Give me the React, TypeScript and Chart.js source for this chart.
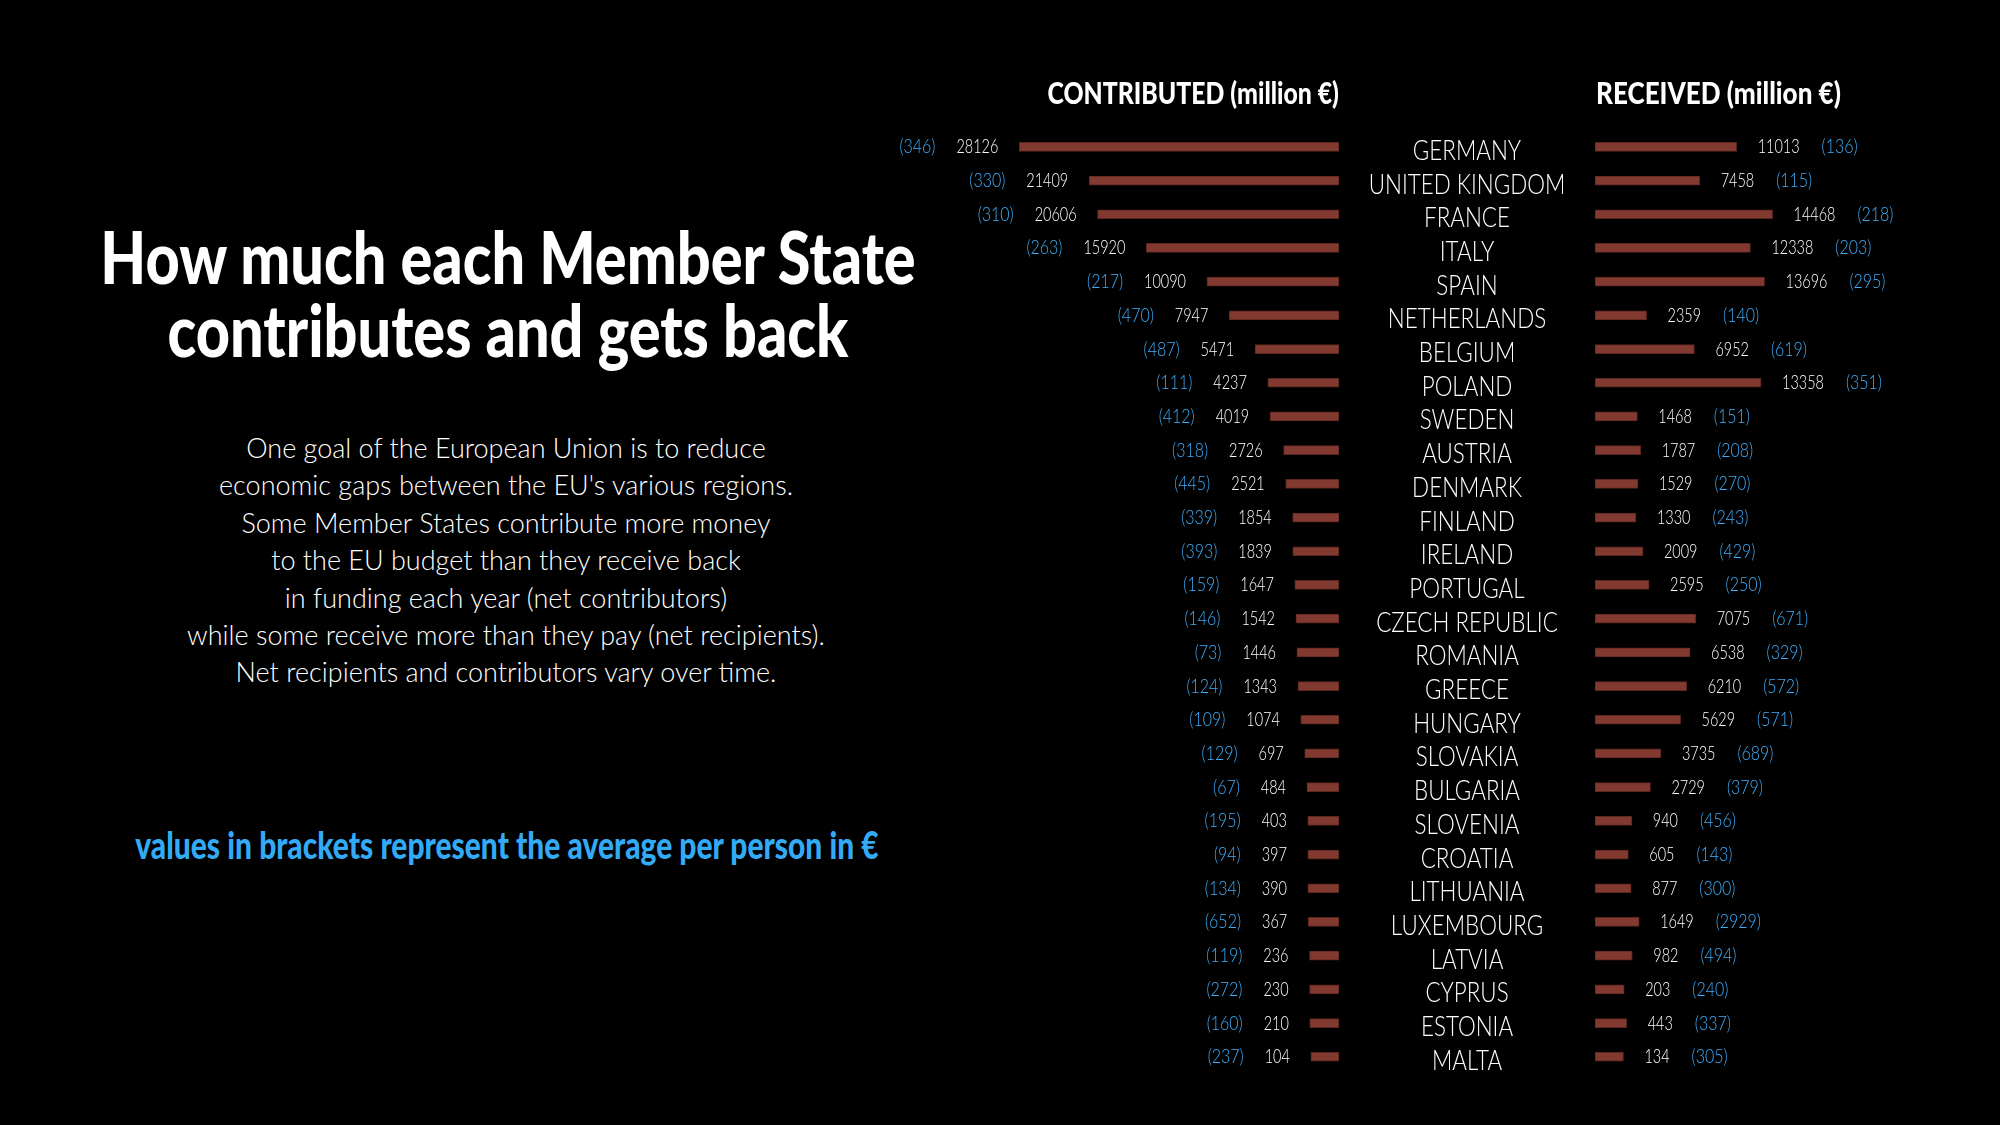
import React, { useEffect, useRef } from "react";
import { Chart, registerables } from "chart.js";

Chart.register(...registerables);

const countries = [
  "GERMANY", "UNITED KINGDOM", "FRANCE", "ITALY", "SPAIN", "NETHERLANDS", "BELGIUM",
  "POLAND", "SWEDEN", "AUSTRIA", "DENMARK", "FINLAND", "IRELAND", "PORTUGAL",
  "CZECH REPUBLIC", "ROMANIA", "GREECE", "HUNGARY", "SLOVAKIA", "BULGARIA",
  "SLOVENIA", "CROATIA", "LITHUANIA", "LUXEMBOURG", "LATVIA", "CYPRUS", "ESTONIA", "MALTA",
];

const contributed = [
  28126, 21409, 20606, 15920, 10090, 7947, 5471, 4237, 4019, 2726, 2521, 1854, 1839, 1647,
  1542, 1446, 1343, 1074, 697, 484, 403, 397, 390, 367, 236, 230, 210, 104,
];

const contributedPerPerson = [
  346, 330, 310, 263, 217, 470, 487, 111, 412, 318, 445, 339, 393, 159,
  146, 73, 124, 109, 129, 67, 195, 94, 134, 652, 119, 272, 160, 237,
];

const received = [
  11013, 7458, 14468, 12338, 13696, 2359, 6952, 13358, 1468, 1787, 1529, 1330, 2009, 2595,
  7075, 6538, 6210, 5629, 3735, 2729, 940, 605, 877, 1649, 982, 203, 443, 134,
];

const receivedPerPerson = [
  136, 115, 218, 203, 295, 140, 619, 351, 151, 208, 270, 243, 429, 250,
  671, 329, 572, 571, 689, 379, 456, 143, 300, 2929, 494, 240, 337, 305,
];

const contributedTitle = "CONTRIBUTED (million €)";
const receivedTitle = "RECEIVED (million €)";

const BAR_COLOR = "#82392f";
const BAR_BORDER = "#5c271f";
const BLUE = "#3eaefc";
const NOTE_BLUE = "#33aaf5";

const BAR_BASE = -2600;
const AXIS_MAX = 32000;

const NUM_FONT = "300 19px Lato";
const NUM_SX = 0.76;
const BR_FONT = "300 19px Lato";
const BR_SX = 0.84;
const LABEL_FONT = "300 28px Lato";
const LABEL_SX = 0.8;
const HEAD_FONT = "900 31px Lato";
const HEAD_SX = 0.8;

function drawScaled(ctx: CanvasRenderingContext2D, text: string, x: number, y: number, sx: number, align: CanvasTextAlign) {
  ctx.save();
  ctx.translate(x, y);
  ctx.scale(sx, 1);
  ctx.textAlign = align;
  ctx.textBaseline = "alphabetic";
  ctx.fillText(text, 0, 0);
  ctx.restore();
}

function widthOf(ctx: CanvasRenderingContext2D, text: string, sx: number) {
  return ctx.measureText(text).width * sx;
}

const leftLabels = {
  id: "leftLabels",
  afterDatasetsDraw(chart: any) {
    const ctx: CanvasRenderingContext2D = chart.ctx;
    const meta = chart.getDatasetMeta(0);
    ctx.save();
    meta.data.forEach((bar: any, i: number) => {
      const { x, y } = bar.getProps(["x", "y"], true);
      ctx.font = NUM_FONT;
      ctx.fillStyle = "#ffffff";
      const v = String(contributed[i]);
      const xv = x - 21;
      drawScaled(ctx, v, xv, y + 6.5, NUM_SX, "right");
      const w = widthOf(ctx, v, NUM_SX);
      ctx.font = BR_FONT;
      ctx.fillStyle = BLUE;
      drawScaled(ctx, `(${contributedPerPerson[i]})`, xv - w - 21, y + 6.5, BR_SX, "right");
    });
    ctx.fillStyle = "#ffffff";
    ctx.font = HEAD_FONT;
    drawScaled(ctx, contributedTitle, chart.chartArea.right, 104, HEAD_SX, "right");
    ctx.restore();
  },
};

const rightLabels = {
  id: "rightLabels",
  afterDatasetsDraw(chart: any) {
    const ctx: CanvasRenderingContext2D = chart.ctx;
    const meta = chart.getDatasetMeta(0);
    const labelX = chart.chartArea.left - 128;
    ctx.save();
    meta.data.forEach((bar: any, i: number) => {
      const { x, y } = bar.getProps(["x", "y"], true);
      ctx.font = NUM_FONT;
      ctx.fillStyle = "#ffffff";
      const v = String(received[i]);
      const xv = x + 21;
      drawScaled(ctx, v, xv, y + 6.5, NUM_SX, "left");
      const w = widthOf(ctx, v, NUM_SX);
      ctx.font = BR_FONT;
      ctx.fillStyle = BLUE;
      drawScaled(ctx, `(${receivedPerPerson[i]})`, xv + w + 22, y + 6.5, BR_SX, "left");
      ctx.font = LABEL_FONT;
      ctx.fillStyle = "#ffffff";
      drawScaled(ctx, countries[i], labelX, y + 13, LABEL_SX, "center");
    });
    ctx.fillStyle = "#ffffff";
    ctx.font = HEAD_FONT;
    drawScaled(ctx, receivedTitle, chart.chartArea.left + 1, 104, HEAD_SX + 0.04, "left");
    ctx.restore();
  },
};

function makeChart(canvas: HTMLCanvasElement, values: number[], reverse: boolean, padding: any, plugin: any) {
  return new Chart(canvas, {
    type: "bar",
    data: {
      labels: countries,
      datasets: [
        {
          data: values,
          base: BAR_BASE,
          backgroundColor: BAR_COLOR,
          borderColor: BAR_BORDER,
          borderWidth: 1,
          borderSkipped: false,
          barThickness: 9,
        } as any,
      ],
    },
    options: {
      indexAxis: "y",
      responsive: false,
      animation: false,
      events: [],
      layout: { padding },
      plugins: { legend: { display: false }, tooltip: { enabled: false }, title: { display: false } },
      scales: {
        x: { type: "linear", min: BAR_BASE, max: AXIS_MAX, reverse, display: false },
        y: { type: "category", display: false, offset: true },
      },
    },
    plugins: [plugin],
  });
}

export default function App() {
  const leftRef = useRef<HTMLCanvasElement | null>(null);
  const rightRef = useRef<HTMLCanvasElement | null>(null);

  useEffect(() => {
    const top = 130;
    const areaH = 28 * 33.7;
    const bottom = 1125 - top - areaH;
    const c1 = makeChart(leftRef.current!, contributed, true, { left: 129, right: 1, top, bottom }, leftLabels);
    const c2 = makeChart(rightRef.current!, received, false, { left: 250, right: 45, top, bottom }, rightLabels);
    return () => {
      c1.destroy();
      c2.destroy();
    };
  }, []);

  return (
    <div style={{ position: "absolute", left: 0, top: 0, width: 2000, height: 1125, background: "#000", overflow: "hidden" }}>
      <div
        style={{
          position: "absolute", left: 0, top: 220, width: 1016, textAlign: "center",
          fontFamily: "Lato", fontWeight: 900, fontSize: 72, lineHeight: "73px", color: "#fff",
          transform: "scaleX(0.825)", transformOrigin: "508px 0", whiteSpace: "nowrap",
        }}
      >
        How much each Member State
        <br />
        contributes and gets back
      </div>
      <div
        style={{
          position: "absolute", left: 0, top: 429, width: 1012, textAlign: "center",
          fontFamily: "Lato", fontWeight: 300, fontSize: 27, lineHeight: "37.4px", color: "#fff", whiteSpace: "nowrap",
        }}
      >
        One goal of the European Union is to reduce
        <br />
        economic gaps between the EU's various regions.
        <br />
        Some Member States contribute more money
        <br />
        to the EU budget than they receive back
        <br />
        in funding each year (net contributors)
        <br />
        while some receive more than they pay (net recipients).
        <br />
        Net recipients and contributors vary over time.
      </div>
      <div
        style={{
          position: "absolute", left: 0, top: 823, width: 1014, textAlign: "center",
          fontFamily: "Lato", fontWeight: 900, fontSize: 37, lineHeight: "44px", color: NOTE_BLUE,
          transform: "scaleX(0.81)", transformOrigin: "507px 0", whiteSpace: "nowrap",
        }}
      >
        values in brackets represent the average per person in €
      </div>
      <canvas ref={leftRef} width={490} height={1125} style={{ position: "absolute", left: 850, top: 0 }} />
      <canvas ref={rightRef} width={655} height={1125} style={{ position: "absolute", left: 1345, top: 0 }} />
    </div>
  );
}
